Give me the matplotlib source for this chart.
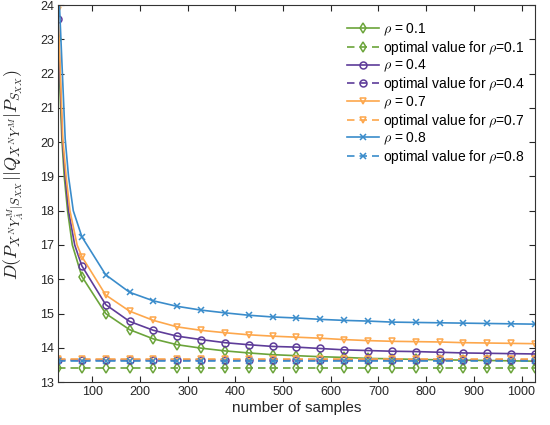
import matplotlib
matplotlib.use("Agg")
import matplotlib.pyplot as plt

plt.rcParams['font.family'] = ['Liberation Sans', 'DejaVu Sans']
plt.rcParams['mathtext.fontset'] = 'cm'

# sample positions that carry markers
x_marks = [28, 78, 128, 178, 228, 278, 328, 378, 428, 478, 528,
           578, 628, 678, 728, 778, 828, 878, 928, 978, 1028]

# values at marker positions
rho01 = [23.00, 16.08, 15.00, 14.53, 14.26, 14.09, 13.99, 13.91, 13.85, 13.80, 13.77,
         13.74, 13.72, 13.69, 13.68, 13.66, 13.65, 13.64, 13.63, 13.62, 13.61]
rho04 = [23.58, 16.39, 15.26, 14.77, 14.51, 14.34, 14.24, 14.15, 14.09, 14.04, 14.02,
         13.98, 13.94, 13.92, 13.90, 13.89, 13.87, 13.85, 13.84, 13.83, 13.82]
rho07 = [23.85, 16.66, 15.54, 15.07, 14.80, 14.61, 14.51, 14.44, 14.38, 14.34, 14.31,
         14.28, 14.24, 14.21, 14.19, 14.18, 14.17, 14.15, 14.14, 14.13, 14.12]
rho08 = [25.00, 17.24, 16.13, 15.62, 15.37, 15.21, 15.10, 15.02, 14.95, 14.90, 14.87,
         14.83, 14.80, 14.78, 14.75, 14.74, 14.73, 14.72, 14.71, 14.70, 14.69]

early_x01 = [36, 41, 48, 58]
early_y01 = [20.1, 19.0, 18.0, 17.0]
early_x04 = [37, 43, 50, 63]
early_y04 = [20.1, 19.0, 18.0, 17.0]
early_x07 = [38, 45, 53, 68]
early_y07 = [20.1, 19.0, 18.0, 17.0]
early_x08 = [31, 43, 50, 60]
early_y08 = [24.0, 20.1, 19.0, 18.0]

optimal = [13.40, 13.63, 13.66, 13.62]
rhos = ['0.1', '0.4', '0.7', '0.8']

colors = ['#6BA43A', '#5E3C99', '#FDA74C', '#3A8CCB']
markers = ['d', 'o', 'v', 'x']

series = [(rho01, early_x01, early_y01), (rho04, early_x04, early_y04),
          (rho07, early_x07, early_y07), (rho08, early_x08, early_y08)]

fig = plt.figure(figsize=(5.5, 4.25), dpi=100)
ax = fig.add_axes([0.1055, 0.101, 0.867, 0.887])

for i, (vals, ex, ey) in enumerate(series):
    xs = [x_marks[0]] + ex + x_marks[1:]
    ys = [vals[0]] + ey + vals[1:]
    mk_idx = [0] + list(range(len(ex) + 1, len(xs)))
    ax.plot(xs, ys, color=colors[i], lw=1.2, marker=markers[i], markevery=mk_idx,
            ms=5, mfc='none', mew=1.1, label=r'$\rho$ = ' + rhos[i])
    ax.plot(x_marks, [optimal[i]] * len(x_marks), color=colors[i], lw=1.2,
            ls=(0, (4.5, 3)), marker=markers[i], ms=5, mfc='none', mew=1.1,
            label=r'optimal value for $\rho$=' + rhos[i])

ax.set_xlim(28, 1028)
ax.set_ylim(13, 24)
ax.set_xticks(range(100, 1001, 100))
ax.set_yticks(range(13, 25))
ax.tick_params(direction='in', top=True, right=True, length=4, width=0.8,
               labelsize=9, colors='#262626', pad=3)
for sp in ax.spines.values():
    sp.set_color('#333333')
    sp.set_linewidth(0.8)

ax.set_xlabel('number of samples', fontsize=11, color='#262626', labelpad=2)
ax.set_ylabel(r'$D(P_{X^NY^M_{\hat{A}}|S_{XX}}||Q_{X^NY^M}|P_{S_{XX}})$',
              fontsize=13, color='#262626', labelpad=2)
ax.yaxis.set_label_coords(-0.068, 0.55)

leg = ax.legend(loc='upper right', bbox_to_anchor=(1.0, 0.982), frameon=False,
                fontsize=10, handlelength=2.3, handletextpad=0.29,
                labelspacing=0.07, numpoints=1, borderaxespad=0.3)

fig.savefig('out.png', dpi=100)
